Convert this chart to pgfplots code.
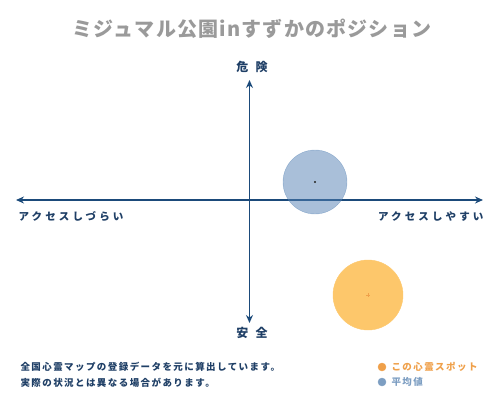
\documentclass[border=0pt]{standalone}
\usepackage{fontspec}
\setmainfont{Noto Sans CJK JP}
\newfontfamily\jpwide[LetterSpace=30]{Noto Sans CJK JP}
\newfontfamily\jpmid[LetterSpace=15]{Noto Sans CJK JP}
\newfontfamily\jpaxis[LetterSpace=60]{Noto Sans CJK JP}
\newfontfamily\jptitle[LetterSpace=6]{Noto Sans CJK JP}
\usepackage{pgfplots}
\pgfplotsset{compat=1.18}
\usetikzlibrary{arrows.meta}

\definecolor{axisnavy}{HTML}{1B4A7A}
\definecolor{textnavy}{HTML}{1F3F66}
\definecolor{avgblue}{HTML}{5380B3}
\definecolor{spotorange}{HTML}{FDC76B}
\definecolor{legorange}{HTML}{EFA04A}
\definecolor{legblue}{HTML}{7D9EC2}
\definecolor{titlegray}{HTML}{9A9A9A}

\begin{document}
\begin{tikzpicture}
\begin{axis}[
    scale only axis,
    width=500pt, height=400pt,
    xmin=0, xmax=500,
    ymin=0, ymax=400,
    hide axis,
    clip=false,
]
\path (axis cs:0,0) rectangle (axis cs:500,400);

% axes
\addplot[axisnavy, line width=1.6pt, {Stealth[length=8pt,width=7pt]}-{Stealth[length=8pt,width=7pt]}]
    coordinates {(16,200) (483,200)};
\addplot[axisnavy, line width=1.6pt, {Stealth[length=8pt,width=7pt]}-{Stealth[length=8pt,width=7pt]}]
    coordinates {(249.5,77) (249.5,320)};

% average (blue) and this spot (orange)
\addplot[only marks, mark=*, mark size=32pt, color=avgblue, opacity=0.5] coordinates {(315,218)};
\addplot[only marks, mark=*, mark size=35pt, color=spotorange] coordinates {(368,105)};
\addplot[only marks, mark=*, mark size=0.8pt, color=black!80] coordinates {(315,218)};
\addplot[only marks, mark=+, mark size=2pt, color=legorange, line width=0.8pt] coordinates {(368,105)};

% title and axis labels
\node[font=\jptitle\fontsize{20}{20}\selectfont\bfseries, text=titlegray] at (axis cs:252,371) {ミジュマル公園inすずかのポジション};
\node[font=\jpaxis\fontsize{12}{12}\selectfont\bfseries, text=textnavy] at (axis cs:252,333) {危険};
\node[font=\jpaxis\fontsize{12}{12}\selectfont\bfseries, text=textnavy] at (axis cs:252,67) {安全};
\node[font=\jpwide\fontsize{10.5}{10.5}\selectfont\bfseries, text=textnavy, anchor=west] at (axis cs:15,184) {アクセスしづらい};
\node[font=\jpwide\fontsize{10.5}{10.5}\selectfont\bfseries, text=textnavy, anchor=east] at (axis cs:487,184) {アクセスしやすい};

% footer
\node[font=\jpmid\fontsize{9.5}{9.5}\selectfont\bfseries, text=textnavy, anchor=west] at (axis cs:17,33) {全国心霊マップの登録データを元に算出しています。};
\node[font=\jpmid\fontsize{9.5}{9.5}\selectfont\bfseries, text=textnavy, anchor=west] at (axis cs:17,17) {実際の状況とは異なる場合があります。};

% legend
\addplot[only marks, mark=*, mark size=4pt, color=legorange] coordinates {(382,33)};
\addplot[only marks, mark=*, mark size=4pt, color=legblue] coordinates {(382,18)};
\node[font=\jpmid\fontsize{9.5}{9.5}\selectfont\bfseries, text=legorange, anchor=west] at (axis cs:388,33) {この心霊スポット};
\node[font=\jpmid\fontsize{9.5}{9.5}\selectfont\bfseries, text=legblue, anchor=west] at (axis cs:388,18) {平均値};
\end{axis}
\end{tikzpicture}
\end{document}
